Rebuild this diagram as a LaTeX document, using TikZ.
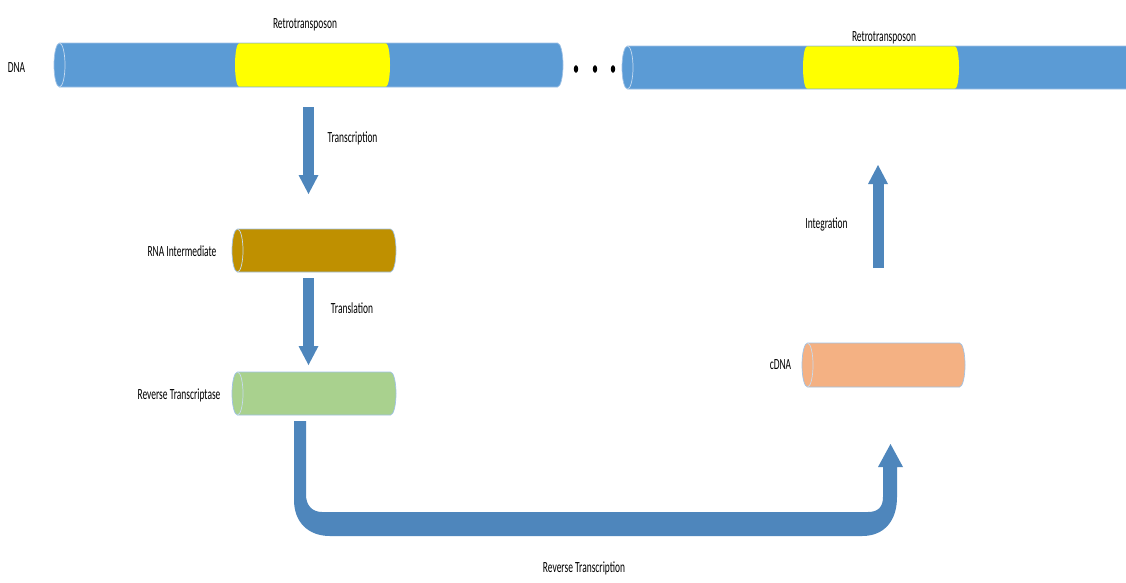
\documentclass[tikz,border=0pt]{standalone}
\usepackage{fontspec}
\newfontfamily\lab[FakeStretch=0.61]{Carlito}
\usetikzlibrary{arrows.meta,calc}
\definecolor{dnablue}{HTML}{5B9BD5}
\definecolor{arrowblue}{HTML}{4E86BC}
\definecolor{rnagold}{HTML}{BF9000}
\definecolor{rtgreen}{HTML}{A9D18E}
\definecolor{cdnaorange}{HTML}{F4B183}
\definecolor{retroyellow}{HTML}{FFFF00}
\definecolor{cylline}{HTML}{9FC2E6}
\definecolor{cylface}{HTML}{C7DBF0}
\newcommand\drawcyl[7]{%
  \node[inner sep=0pt, outer sep=0pt, minimum width={(#3-#2)*1pt}, minimum height={(#5-#4)*1pt}] (#1) at ({(#2+#3)/2},{-(#4+#5)/2}) {};
  \filldraw[fill=#6, draw=cylline, line width=0.7pt] (#2+#7,-#4) -- (#3-#7,-#4)
    arc[start angle=90,end angle=-90,x radius=#7,y radius={(#5-#4)/2}] -- (#2+#7,-#5)
    arc[start angle=270,end angle=90,x radius=#7,y radius={(#5-#4)/2}] -- cycle;
  \draw[cylface, line width=0.7pt] (#2+#7,-#4) arc[start angle=90,end angle=-90,x radius=#7,y radius={(#5-#4)/2}];
}
\newcommand\drawseg[6]{%
  \node[inner sep=0pt, outer sep=0pt, minimum width={(#3-#2)*1pt}, minimum height={(#5-#4)*1pt}] (#1) at ({(#2+#3)/2},{-(#4+#5)/2}) {};
  \fill[retroyellow] (#2+#6,-#4-0.4) -- (#3-#6,-#4-0.4)
    arc[start angle=90,end angle=-90,x radius=#6,y radius={(#5-#4-0.8)/2}] -- (#2+#6,-#5+0.4)
    arc[start angle=270,end angle=90,x radius=#6,y radius={(#5-#4-0.8)/2}] -- cycle;
}
\tikzset{
  lab/.style={font=\lab\fontsize{15.5}{18}\selectfont, inner sep=0pt, anchor=base, text=black},
  blockarrow/.style={draw=arrowblue, line width=11pt, -{Triangle[width=20pt,length=19pt,line width=0pt]}},
}
\begin{document}
\begin{tikzpicture}[x=1pt,y=1pt]
\useasboundingbox (0,0) rectangle (1126,-582);
\fill[white] (0,0) rectangle (1126,-582);
% top DNA strands
\drawcyl{dna}{54}{563}{43}{87}{dnablue}{5.5}
\drawseg{retro1}{235}{390}{43}{87}{4}
\begin{scope}
\clip (0,0) rectangle (1126,-582);
\drawcyl{dna2}{622}{1150}{46}{89}{dnablue}{5.5}
\drawseg{retro2}{803}{959}{46}{89}{4}
\end{scope}
% dots
\foreach \x in {576,595,613} \fill[black] (\x,-69) ellipse[x radius=2.2, y radius=3.8];
% other cylinders
\drawcyl{rna}{232}{396}{229}{272}{rnagold}{5.5}
\drawcyl{rt}{232}{396}{372}{415}{rtgreen}{5.5}
\drawcyl{cdna}{802}{965}{343}{387}{cdnaorange}{5.5}
% labels
\node[lab] (lret1) at (305,-28) {Retrotransposon};
\node[lab] (ldna) at (16.5,-72) {DNA};
\node[lab] (lret2) at (884,-41) {Retrotransposon};
\node[lab] (ltrc) at (352.5,-142) {Transcription};
\node[lab] (lrna) at (182,-256) {RNA Intermediate};
\node[lab] (ltrl) at (352,-313) {Translation};
\node[lab] (lrt) at (179,-399) {Reverse Transcriptase};
\node[lab] (lint) at (826.5,-228) {Integration};
\node[lab] (lcdna) at (780.5,-369) {cDNA};
\node[lab] (lrtn) at (584,-572) {Reverse Transcription};
% straight block arrows
\draw[blockarrow] ($(dna.south)+(0,-20)$) -- ($(dna.south |- rna.north)+(0,35)$);
\draw[blockarrow] ($(dna.south |- rna.south)+(0,-6)$) -- ($(dna.south |- rt.north)+(0,7)$);
\draw[blockarrow] ($(cdna.north)+(-5.5,75)$) -- ($(cdna.north |- dna2.south)+(-5.5,-76)$);
% U-turn arrow (reverse transcription)
\coordinate (ustart) at (300,-421);
\coordinate (uend) at (890.5,-444);
\fill[arrowblue] (294,-421) -- (306,-421) -- (306,-495)
  .. controls (306,-505) and (312,-512) .. (322,-512) -- (868,-512)
  .. controls (878,-512) and (883,-507) .. (883,-497) -- (883,-467) -- (878,-467)
  -- (uend) -- (903,-467) -- (897,-467) -- (897,-497)
  .. controls (897,-520) and (885,-536) .. (862,-536) -- (330,-536)
  .. controls (308,-536) and (294,-522) .. (294,-500) -- cycle;
\end{tikzpicture}
\end{document}
